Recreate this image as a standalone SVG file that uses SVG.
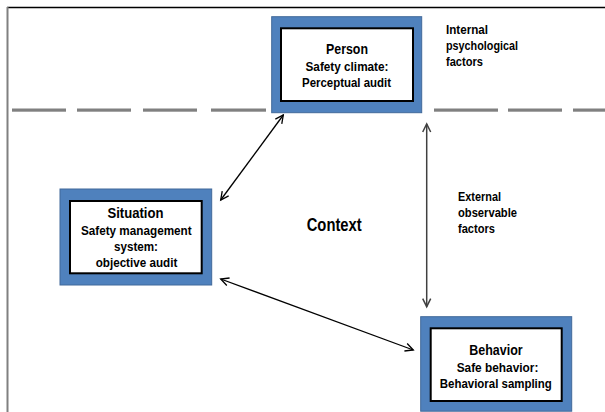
<svg xmlns="http://www.w3.org/2000/svg" width="605" height="412" viewBox="0 0 605 412">
<defs>
<style>
.outer{fill:#4f81bd;stroke:#41699a;stroke-width:1}
.inner{fill:#ffffff;stroke:#000000;stroke-width:2}
.dash{fill:#808080}
.t{font-family:"Liberation Sans",Arial,sans-serif;font-weight:bold;fill:#000000}
.title{font-size:15.5px;text-anchor:middle}
.body{font-size:13.5px;text-anchor:middle}
.side{font-size:13px}
.ctx{font-size:18px}
.conn{fill:none;stroke:#000000;stroke-width:1.3}
.vconn{fill:none;stroke:#404040;stroke-width:1.5}
</style>
<marker id="ah" markerUnits="userSpaceOnUse" markerWidth="12" markerHeight="12" refX="9" refY="5" orient="auto-start-reverse" viewBox="0 0 12 10">
<path d="M1,1 L9,5 L1,9" fill="none" stroke="#000000" stroke-width="1.3"/>
</marker>
<marker id="ahg" markerUnits="userSpaceOnUse" markerWidth="12" markerHeight="12" refX="9" refY="5" orient="auto-start-reverse" viewBox="0 0 12 10">
<path d="M1,1 L9,5 L1,9" fill="none" stroke="#404040" stroke-width="1.5"/>
</marker>
</defs>
<rect x="0" y="0" width="605" height="412" fill="#ffffff"/>
<g id="frame">
<line x1="7" y1="7.5" x2="605" y2="7.5" stroke="#000000" stroke-width="1.5"/>
<line x1="7.5" y1="7" x2="7.5" y2="412" stroke="#808080" stroke-width="2"/>
</g>
<g id="divider">
<rect class="dash" x="12" y="108.5" width="54" height="3.2"/>
<rect class="dash" x="77" y="108.5" width="54" height="3.2"/>
<rect class="dash" x="143" y="108.5" width="54" height="3.2"/>
<rect class="dash" x="211" y="108.5" width="55" height="3.2"/>
<rect class="dash" x="434" y="108.5" width="64" height="3.2"/>
<rect class="dash" x="508" y="108.5" width="54" height="3.2"/>
<rect class="dash" x="573" y="108.5" width="32" height="3.2"/>
</g>
<g id="connectors">
<line class="conn" x1="283.3" y1="115" x2="220.7" y2="200" marker-start="url(#ah)" marker-end="url(#ah)"/>
<line class="conn" x1="220.7" y1="279" x2="413.3" y2="350" marker-start="url(#ah)" marker-end="url(#ah)"/>
<line class="vconn" x1="426.7" y1="124" x2="426.7" y2="306.7" marker-start="url(#ahg)" marker-end="url(#ahg)"/>
</g>
<g id="person">
<rect class="outer" x="271.7" y="16.7" width="150" height="96"/>
<rect class="inner" x="281" y="28.3" width="132" height="72.7"/>
<text class="t title" x="347" y="54" textLength="42" lengthAdjust="spacingAndGlyphs">Person</text>
<text class="t body" x="347" y="71" textLength="83" lengthAdjust="spacingAndGlyphs">Safety climate:</text>
<text class="t body" x="346.5" y="87" textLength="89" lengthAdjust="spacingAndGlyphs">Perceptual audit</text>
</g>
<g id="situation">
<rect class="outer" x="60" y="189" width="151.7" height="96"/>
<rect class="inner" x="70" y="201" width="131.7" height="72.3"/>
<text class="t title" x="135.5" y="218" textLength="56" lengthAdjust="spacingAndGlyphs">Situation</text>
<text class="t body" x="136.3" y="235" textLength="110.7" lengthAdjust="spacingAndGlyphs">Safety management</text>
<text class="t body" x="136" y="251" textLength="44" lengthAdjust="spacingAndGlyphs">system:</text>
<text class="t body" x="136.5" y="266.5" textLength="81.7" lengthAdjust="spacingAndGlyphs">objective audit</text>
</g>
<g id="behavior">
<rect class="outer" x="420.7" y="316.7" width="151" height="94.5"/>
<rect class="inner" x="430.7" y="328.3" width="131" height="72.7"/>
<text class="t title" x="496" y="355" textLength="53.3" lengthAdjust="spacingAndGlyphs">Behavior</text>
<text class="t body" x="497.5" y="371.5" textLength="81.7" lengthAdjust="spacingAndGlyphs">Safe behavior:</text>
<text class="t body" x="495.8" y="387.5" textLength="112" lengthAdjust="spacingAndGlyphs">Behavioral sampling</text>
</g>
<g id="internal-label">
<text class="t side" x="446" y="34" textLength="42" lengthAdjust="spacingAndGlyphs">Internal</text>
<text class="t side" x="446" y="50" textLength="72" lengthAdjust="spacingAndGlyphs">psychological</text>
<text class="t side" x="446" y="66" textLength="37" lengthAdjust="spacingAndGlyphs">factors</text>
</g>
<g id="external-label">
<text class="t side" x="458" y="200.7" textLength="43" lengthAdjust="spacingAndGlyphs">External</text>
<text class="t side" x="458" y="216.7" textLength="59" lengthAdjust="spacingAndGlyphs">observable</text>
<text class="t side" x="458" y="232.7" textLength="37" lengthAdjust="spacingAndGlyphs">factors</text>
</g>
<g id="context">
<text class="t ctx" x="306.7" y="230.7" textLength="55" lengthAdjust="spacingAndGlyphs">Context</text>
</g>
</svg>
